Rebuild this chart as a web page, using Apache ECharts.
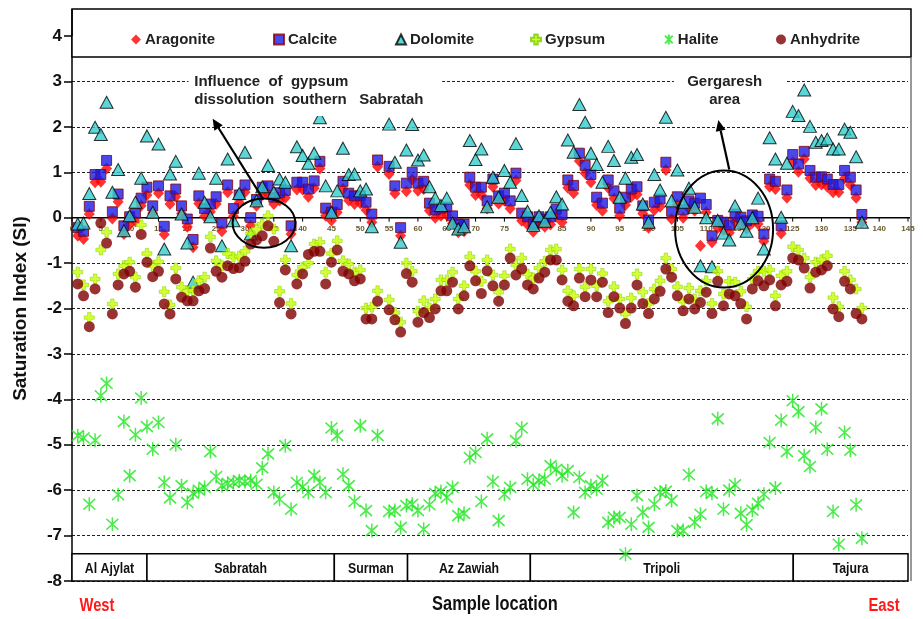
<!DOCTYPE html>
<html>
<head>
<meta charset="utf-8">
<script src="https://cdn.jsdelivr.net/npm/echarts@6/dist/echarts.min.js"></script>
<style>
  html, body { margin: 0; padding: 0; background: #fff; }
  #chart { width: 923px; height: 619px; }
</style>
</head>
<body>
<div id="chart"></div>
<script>
// Saturation indices of groundwater samples along the coast, west to east.
const seriesNames = ['Aragonite', 'Calcite', 'Dolomite', 'Gypsum', 'Halite', 'Anhydrite'];

const aragonite = [
  -0.4, -0.47, 0.08, 0.78, 0.79, 1.08, -0.02, 0.35, -0.36, -0.15,
  -0.08, 0.26, 0.5, 0.1, 0.54, -0.37, 0.3, 0.46, 0.09, -0.2,
  -0.65, 0.31, 0.03, 0.13, 0.3, -0.3, 0.56, 0.03, 0.33, 0.56,
  -0.18, 0.26, 0.5, 0.52, 0.3, 0.38, 0.44, -0.36, 0.62, 0.62,
  0.46, 0.65, 1.08, 0.04, -0.06, 0.12, 0.63, 0.38, 0.3, 0.32,
  0.17, -0.1, 1.12, null, 0.96, 0.53, -0.4, 0.58, 0.84, 0.59,
  0.63, 0.15, 0.0, 0.04, 0.06, -0.13, -0.32, -0.3, 0.72, 0.5,
  0.5, 0.2, 0.68, 0.31, 0.37, 0.2, 0.82, -0.07, -0.15, -0.31,
  -0.15, -0.2, -0.15, 0.02, -0.1, 0.66, 0.54, 1.25, 0.98, 0.78,
  0.28, 0.15, 0.66, 0.42, 0.04, 0.28, 0.46, 0.51, 0.09, -0.22,
  0.17, 0.24, 1.05, -0.03, 0.29, 0.0, 0.2, 0.15, -0.62, 0.12,
  -0.54, -0.23, -0.27, -0.33, -0.09, -0.16, -0.24, -0.11, -0.14, -0.52,
  0.68, 0.63, -0.35, 0.44, 1.22, 1.01, 1.29, 0.87, 0.72, 0.73,
  0.68, 0.56, 0.56, 0.87, 0.72, 0.44, -0.1
];

const calcite = [
  -0.22, -0.3, 0.25, 0.95, 0.95, 1.26, 0.13, 0.52, -0.18, 0.02,
  0.1, 0.43, 0.67, 0.26, 0.7, -0.19, 0.48, 0.63, 0.26, -0.03,
  -0.48, 0.48, 0.2, 0.3, 0.46, -0.12, 0.72, 0.2, 0.5, 0.72,
  0.0, 0.4, 0.67, 0.7, 0.45, 0.55, 0.6, -0.18, 0.78, 0.78,
  0.63, 0.81, 1.24, 0.21, 0.12, 0.29, 0.8, 0.54, 0.48, 0.48,
  0.34, 0.08, 1.27, null, 1.13, 0.7, -0.22, 0.76, 1.0, 0.76,
  0.8, 0.32, 0.17, 0.21, 0.23, 0.04, -0.14, -0.14, 0.89, 0.67,
  0.67, 0.37, 0.85, 0.48, 0.54, 0.37, 0.98, 0.1, 0.02, -0.14,
  0.02, -0.03, 0.02, 0.19, 0.07, 0.83, 0.71, 1.42, 1.15, 0.95,
  0.45, 0.32, 0.83, 0.59, 0.21, 0.45, 0.63, 0.68, 0.26, -0.05,
  0.34, 0.41, 1.22, 0.14, 0.46, 0.17, 0.37, 0.32, 0.43, 0.29,
  -0.4, -0.06, -0.1, -0.16, 0.08, 0.01, -0.07, 0.06, 0.03, -0.36,
  0.85, 0.8, -0.18, 0.61, 1.39, 1.18, 1.46, 1.04, 0.89, 0.9,
  0.85, 0.73, 0.73, 1.04, 0.89, 0.61, 0.07
];

const dolomite = [
  -0.14, -0.12, 0.53, 1.99, 1.83, 2.54, 0.56, 1.06, -0.29, 0.04,
  0.34, 0.87, 1.8, 0.12, 1.62, -0.69, 0.96, 1.24, 0.08, -0.56,
  -1.42, 0.98, 0.34, 0.02, 0.87, -0.62, 1.29, -0.07, 0.53, 1.44,
  -0.36, 0.37, 0.68, 1.15, 0.56, 0.85, 0.78, -0.62, 1.56, 1.37,
  1.2, 1.42, 2.2, 0.7, 0.12, 0.59, 1.53, 0.95, 0.96, 0.59,
  0.63, -0.2, null, null, 2.06, 1.22, -0.54, 1.49, 2.05, 1.27,
  1.38, 0.68, 0.43, 0.27, 0.43, -0.12, -0.25, -0.2, 1.7, 1.28,
  1.51, 0.24, 0.89, 0.45, 1.04, 0.78, 1.63, 0.49, 0.14, -0.17,
  0.04, -0.08, 0.12, 0.46, 0.3, 1.71, 1.44, 2.49, 2.1, 1.42,
  1.17, 0.78, 1.57, 1.26, 0.45, 0.87, 1.33, 1.39, 0.3, -0.1,
  0.95, 0.61, 2.21, 0.37, 1.05, 0.34, 0.65, 0.23, -1.06, 0.0,
  -1.08, -0.06, -0.34, -0.49, 0.26, -0.12, -0.3, 0.0, 0.43, -0.69,
  1.76, 1.29, 0.01, 1.2, 2.34, 2.25, 2.81, 2.01, 1.66, 1.7,
  1.73, 1.51, 1.51, 1.95, 1.88, 1.34, -0.1
];

const gypsum = [
  -1.2, -1.48, -2.2, -1.35, -0.71, -0.32, -1.9, -1.24, -1.06, -0.98,
  -1.31, -0.16, -0.79, -1.06, -0.97, -1.63, -1.92, -1.11, -1.53, -1.62,
  -1.6, -1.39, -1.31, -0.42, -0.95, -1.06, -0.79, -0.87, -0.85, -0.74,
  -0.35, -0.25, -0.14, 0.04, -0.25, -1.62, -0.93, -1.89, -1.26, -1.09,
  -1.0, -0.58, -0.54, -1.2, -0.79, -0.51, -0.95, -1.02, -1.2, -1.15,
  -1.99, -1.97, -1.61, null, -1.81, -2.09, -2.3, -1.0, -1.18, -2.06,
  -1.83, -1.99, -1.79, -1.37, -1.37, -1.2, -1.79, -1.5, -0.86, -1.18,
  -1.4, -0.93, -1.26, -1.64, -1.28, -0.69, -1.04, -0.89, -1.24, -1.33,
  -1.11, -0.96, -0.71, -0.69, -1.15, -1.61, -1.72, -1.13, -1.52, -1.13,
  -1.5, -1.23, -1.84, -1.52, -1.79, -2.12, -1.77, -1.24, -1.64, -1.89,
  -1.57, -1.39, -0.89, -1.13, -1.52, -1.84, -1.55, -1.79, -1.61, -1.39,
  -1.89, -1.18, -1.68, -1.4, -1.42, -1.62, -1.96, -1.35, -1.18, -1.18,
  -1.15, -1.72, -1.28, -1.18, -0.64, -0.71, -0.89, -1.31, -0.98, -0.93,
  -0.84, -1.76, -1.96, -1.18, -1.37, -1.57, -1.99
];

const halite = [
  -4.8, -4.85, -6.31, -4.9, -3.92, -3.65, -6.75, -6.1, -4.49, -5.68,
  -4.78, -3.97, -4.6, -5.1, -4.51, -5.83, -6.17, -5.0, -5.9, -6.27,
  -6.07, -6.0, -5.94, -5.15, -5.7, -5.9, -5.85, -5.83, -5.79, -5.81,
  -5.79, -5.87, -5.51, -5.2, -6.05, -6.2, -5.02, -6.42, -5.83, -5.93,
  -6.05, -5.68, -5.83, -6.05, -4.63, -4.8, -5.65, -5.9, -6.25, -4.58,
  -6.45, -6.89, -4.8, null, -6.47, -6.45, -6.82, -6.34, -6.31, -6.45,
  -6.86, -6.32, -6.07, -6.03, -6.16, -5.94, -6.56, -6.51, -5.28, -5.17,
  -6.25, -4.87, -5.81, -6.67, -6.09, -5.94, -4.91, -4.63, -5.76, -5.88,
  -5.79, -5.76, -5.46, -5.54, -5.68, -5.57, -6.49, -5.72, -6.05, -5.9,
  -5.98, -5.79, -6.71, -6.6, -6.6, -7.41, -6.75, -6.12, -6.49, -6.82,
  -6.31, -6.05, -6.02, -6.23, -6.89, -6.89, -5.66, -6.71, -6.53, -6.03,
  -6.07, -4.43, -6.42, -6.0, -5.88, -6.51, -6.76, -6.44, -6.29, -6.09,
  -4.95, -5.95, -4.46, -5.15, -4.03, -4.27, -5.24, -5.48, -4.62, -4.21,
  -5.1, -6.47, -7.19, -4.73, -5.12, -6.32, -7.06
];

const anhydrite = [
  -1.46, -1.72, -2.4, -1.57, -0.12, -0.56, -2.12, -1.48, -1.24, -1.18,
  -1.53, -0.37, -0.98, -1.3, -1.18, -1.9, -2.12, -1.35, -1.75, -1.83,
  -1.83, -1.61, -1.56, -0.67, -1.18, -1.31, -1.06, -1.12, -1.1, -0.96,
  -0.58, -0.49, -0.4, -0.18, -0.52, -1.87, -1.15, -2.12, -1.46, -1.24,
  -0.81, -0.74, -0.74, -1.46, -0.98, -0.71, -1.18, -1.24, -1.39, -1.35,
  -2.23, -2.23, -1.84, null, -2.03, -2.25, -2.52, -1.23, -1.42, -2.3,
  -2.09, -2.2, -2.01, -1.61, -1.61, -1.42, -2.01, -1.72, -1.06, -1.39,
  -1.67, -1.17, -1.5, -1.84, -1.48, -0.89, -1.26, -1.13, -1.48, -1.57,
  -1.33, -1.2, -0.93, -0.93, -1.37, -1.84, -1.94, -1.33, -1.74, -1.37,
  -1.74, -1.42, -2.09, -1.74, -1.99, -2.33, -1.99, -1.48, -1.89, -2.11,
  -1.79, -1.62, -1.13, -1.31, -1.72, -2.05, -1.79, -2.01, -1.87, -1.64,
  -2.11, -1.4, -1.94, -1.68, -1.72, -1.89, -2.23, -1.57, -1.39, -1.5,
  -1.37, -1.94, -1.48, -1.4, -0.89, -0.93, -1.11, -1.55, -1.2, -1.15,
  -1.06, -2.01, -2.18, -1.4, -1.57, -2.11, -2.23
];

// Sample-number tick labels along the zero line
const xTickLabels = [0, 5, 10, 15, 20, 25, 30, 35, 40, 45, 50, 55, 60, 65, 70, 75,
  80, 85, 90, 95, 100, 105, 110, 115, 120, 125, 130, 135, 140, 145];

// Coastal districts and the sample-number span each one covers
const regionNames = ['Al Ajylat', 'Sabratah', 'Surman', 'Az Zawiah', 'Tripoli', 'Tajura'];
const regionStart = [0, 13, 45.5, 58.2, 79.5, 125.1];
const regionEnd = [13, 45.5, 58.2, 79.5, 125.1, 145];
const regionTop = -7.4;

const SANS = "'Liberation Sans', Arial, sans-serif";

function pairs(values) {
  const out = [];
  values.forEach((v, k) => { if (v !== null) out.push([k + 1, v]); });
  return out;
}

const plusPath = 'path://M3.3,0H6.7V3.3H10V6.7H6.7V10H3.3V6.7H0V3.3H3.3Z';
const starPath = 'path://M0,0L10,10M10,0L0,10M5,-1.5L5,11.5';

const chart = echarts.init(document.getElementById('chart'), null, { renderer: 'canvas' });

const legendLeft = [126, 268, 390, 525, 659, 771];
const legends = seriesNames.map((n, k) => ({
  data: [n],
  left: legendLeft[k],
  top: 27,
  itemWidth: 10,
  itemHeight: 10,
  itemGap: 0,
  selectedMode: false,
  z: 10,
  textStyle: { fontSize: 15, fontWeight: 'bold', color: '#222', fontFamily: SANS, padding: [0, 0, 0, -1] }
}));

const option = {
  animation: false,
  backgroundColor: '#fff',
  grid: { left: 72, right: 15, top: 36, bottom: 38 },
  legend: legends,
  xAxis: {
    type: 'value', min: 0, max: 145, interval: 5,
    axisLine: { show: false },
    axisTick: { show: false },
    axisLabel: { show: false },
    splitLine: { show: false }
  },
  yAxis: {
    type: 'value', min: -8, max: 4, interval: 1,
    name: 'Saturation Index (SI)',
    nameLocation: 'middle', nameGap: 42,
    nameTextStyle: { fontSize: 19, fontWeight: 'bold', color: '#111', fontFamily: SANS },
    axisLine: { show: true, onZero: false, lineStyle: { color: '#000', width: 1.5 } },
    axisTick: { show: true, length: 8, lineStyle: { color: '#000', width: 1.5 } },
    axisLabel: { fontSize: 17, fontWeight: 'bold', color: '#111', margin: 10, fontFamily: SANS },
    splitLine: { show: true, lineStyle: { color: '#222', width: 1, type: [3, 2] } }
  },
  series: [
    {
      name: 'Aragonite', type: 'scatter', data: pairs(aragonite),
      symbol: 'diamond', symbolSize: [11, 12],
      itemStyle: { color: '#ff0000' },
      markArea: {
        silent: true,
        itemStyle: { color: '#fff', borderColor: '#000', borderWidth: 1.5 },
        label: { show: false },
        data: regionNames.map((n, k) => [
          { name: n, xAxis: regionStart[k], yAxis: -8 },
          { xAxis: regionEnd[k], yAxis: regionTop }
        ])
      }
    },
    {
      name: 'Calcite', type: 'scatter', data: pairs(calcite),
      symbol: 'rect', symbolSize: 10,
      itemStyle: { color: '#1a1ae6', borderColor: '#8b0000', borderWidth: 1 }
    },
    {
      name: 'Dolomite', type: 'scatter', data: pairs(dolomite),
      symbol: 'triangle', symbolSize: [13, 12],
      itemStyle: { color: '#33cccc', borderColor: '#000', borderWidth: 1 }
    },
    {
      name: 'Gypsum', type: 'scatter', data: pairs(gypsum),
      symbol: plusPath, symbolSize: 10,
      itemStyle: { color: '#ccff00', borderColor: '#77cc00', borderWidth: 0.6 }
    },
    {
      name: 'Halite', type: 'scatter', data: pairs(halite),
      symbol: starPath, symbolSize: [12, 14],
      itemStyle: { color: 'rgba(0,0,0,0)', borderColor: '#1ee61e', borderWidth: 1.6 }
    },
    {
      name: 'Anhydrite', type: 'scatter', data: pairs(anhydrite),
      symbol: 'circle', symbolSize: 11,
      itemStyle: { color: '#7f0000' }
    }
  ]
};

chart.setOption(option);

// Frame, zero line, district labels, annotations and arrows placed in data space
const P = (x, y) => chart.convertToPixel({ gridIndex: 0 }, [x, y]);

function arrow(from, to) {
  const a = P(from[0], from[1]);
  const b = P(to[0], to[1]);
  const dx = b[0] - a[0], dy = b[1] - a[1];
  const len = Math.sqrt(dx * dx + dy * dy);
  const ux = dx / len, uy = dy / len;
  const hl = 11, hw = 5;
  const base = [b[0] - ux * hl, b[1] - uy * hl];
  return [
    { type: 'line', z: 20, shape: { x1: a[0], y1: a[1], x2: base[0], y2: base[1] }, style: { stroke: '#000', lineWidth: 2.2 } },
    { type: 'polygon', z: 20, shape: { points: [b, [base[0] - uy * hw, base[1] + ux * hw], [base[0] + uy * hw, base[1] - ux * hw]] }, style: { fill: '#000' } }
  ];
}

function ellipse(cx, cy, x1, y1) {
  const c = P(cx, cy);
  const e = P(x1, y1);
  return { type: 'ellipse', z: 20, shape: { cx: c[0], cy: c[1], rx: Math.abs(e[0] - c[0]), ry: Math.abs(e[1] - c[1]) }, style: { fill: null, stroke: '#000', lineWidth: 2 } };
}

function whiteBox(x0, y0, x1, y1) {
  const a = P(x0, y0), b = P(x1, y1);
  return { type: 'rect', z: 15, shape: { x: a[0], y: a[1], width: b[0] - a[0], height: b[1] - a[1] }, style: { fill: '#fff' } };
}

function label(x, y, text, align) {
  const p = P(x, y);
  return { type: 'text', z: 21, x: p[0], y: p[1], style: { text: text, fill: '#222', font: "bold 15px 'Liberation Sans', Arial, sans-serif", textAlign: align, textVerticalAlign: 'middle' } };
}

// condensed bold text (narrow face drawn by horizontal scaling)
function narrowText(x, y, text, size, color, z) {
  return { type: 'text', z: z || 22, x: x, y: y, scaleX: 0.82, style: { text: text, fill: color, font: 'bold ' + size + "px 'Liberation Sans', Arial, sans-serif", textAlign: 'center', textVerticalAlign: 'middle' } };
}

const zero0 = P(0, 0);
const zero1 = P(145, 0);
const topRight = P(145, 4);
const bottom = P(0, -8);

const graphics = [
  // legend box across the top of the frame
  { type: 'rect', z: 1, shape: { x: 72, y: 9, width: 839, height: 48 }, style: { fill: '#fff', stroke: '#000', lineWidth: 1.5 } },
  { type: 'line', z: 1, shape: { x1: 72, y1: 9, x2: 72, y2: topRight[1] }, style: { stroke: '#000', lineWidth: 1.5 } },
  { type: 'line', z: 1, shape: { x1: 911, y1: 57, x2: 911, y2: bottom[1] }, style: { stroke: '#777', lineWidth: 1.5 } },
  // x axis through zero
  { type: 'line', z: 1, shape: { x1: zero0[0], y1: zero0[1], x2: zero1[0] + 2, y2: zero1[1] }, style: { stroke: '#000', lineWidth: 1.5 } }
];

xTickLabels.forEach(t => {
  const p = P(t, 0);
  graphics.push({ type: 'line', z: 1, shape: { x1: p[0], y1: p[1], x2: p[0], y2: p[1] + 4 }, style: { stroke: '#000', lineWidth: 1 } });
  graphics.push({ type: 'text', z: 1, x: p[0], y: p[1] + 11, style: { text: String(t), fill: '#6b5a30', font: "bold 8px 'Liberation Sans', Arial, sans-serif", textAlign: 'center', textVerticalAlign: 'middle' } });
});

regionNames.forEach((n, k) => {
  const c = P((regionStart[k] + regionEnd[k]) / 2, (regionTop - 8) / 2);
  graphics.push(narrowText(c[0], c[1] + 1, n, 15, '#111', 22));
});

graphics.push(
  // annotation: southern Sabratah
  whiteBox(20.2, 3.24, 64.2, 2.24),
  label(21.2, 2.98, 'Influence  of  gypsum', 'left'),
  label(21.2, 2.6, 'dissolution  southern   Sabratah', 'left'),
  ellipse(33.3, -0.12, 38.75, 0.42),
  ...arrow([33.2, 0.4], [24.4, 2.18]),
  // annotation: Gergaresh
  whiteBox(104.4, 3.24, 123.7, 2.4),
  label(113.2, 2.98, 'Gergaresh', 'center'),
  label(113.2, 2.6, 'area', 'center'),
  ellipse(113.1, -0.25, 121.6, 1.04),
  ...arrow([114.0, 1.06], [112.1, 2.15]),
  // axis title and direction marks below the plot
  narrowText(495, 604, 'Sample location', 20, '#111', 5),
  narrowText(97, 606, 'West', 18, '#ff1a1a', 5),
  narrowText(884, 606, 'East', 18, '#ff1a1a', 5)
);

chart.setOption({ graphic: graphics });
</script>
</body>
</html>
